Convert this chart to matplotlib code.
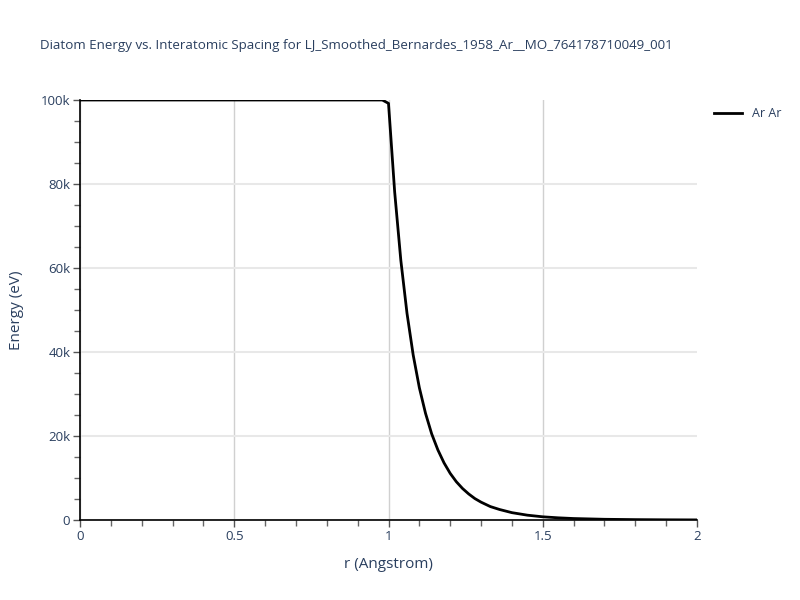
import matplotlib
matplotlib.use('Agg')
import matplotlib.pyplot as plt
from matplotlib.ticker import MultipleLocator, FuncFormatter

# Datos (r en Angstrom, energia en eV)
r_vals = [0.0, 0.98, 1.00, 1.02, 1.04, 1.06, 1.08, 1.10, 1.12, 1.14, 1.16,
          1.18, 1.20, 1.22, 1.24, 1.26, 1.28, 1.30, 1.33, 1.36, 1.40, 1.45,
          1.50, 1.55, 1.60, 1.70, 1.80, 1.90, 2.00]
energia = [100000, 100000, 99200, 78100, 61800, 49200, 39300, 31500, 25400,
           20500, 16700, 13600, 11100, 9100, 7500, 6200, 5100, 4250, 3200,
           2500, 1750, 1150, 760, 520, 350, 170, 90, 45, 20]
etiqueta = 'Ar Ar'
titulo = 'Diatom Energy vs. Interatomic Spacing for LJ_Smoothed_Bernardes_1958_Ar__MO_764178710049_001'

texto = '#2a3f5f'
plt.rcParams['font.family'] = ['Open Sans', 'DejaVu Sans']

fig = plt.figure(figsize=(8, 6), dpi=100)
ax = fig.add_axes([80 / 800, 1 - 520 / 600, (697 - 80) / 800, (520 - 100) / 600])

ax.plot(r_vals, energia, color='black', linewidth=2, label=etiqueta, zorder=3)

ax.set_xlim(0, 2)
ax.set_ylim(0, 100000)

# Cuadricula
ax.xaxis.set_major_locator(MultipleLocator(0.5))
ax.xaxis.set_minor_locator(MultipleLocator(0.1))
ax.yaxis.set_major_locator(MultipleLocator(20000))
ax.yaxis.set_minor_locator(MultipleLocator(5000))
ax.grid(True, axis='x', which='major', color='#d0d0d0', linewidth=1)
ax.grid(True, axis='y', which='major', color='#e8e8e8', linewidth=1.5)
ax.set_axisbelow(True)

def fmt_x(v, pos):
    if abs(v - round(v)) < 1e-9:
        return str(int(round(v)))
    return f'{v:g}'

def fmt_y(v, pos):
    if v == 0:
        return '0'
    return f'{int(v / 1000)}k'

ax.xaxis.set_major_formatter(FuncFormatter(fmt_x))
ax.yaxis.set_major_formatter(FuncFormatter(fmt_y))

ax.tick_params(axis='both', which='major', direction='out', length=5, width=1,
               color='#555555', labelsize=9.5, labelcolor=texto, pad=2)
ax.tick_params(axis='both', which='minor', direction='out', length=4, width=1,
               color='#666666')

# sin lineas de cuadricula en los bordes (x=2 y 100k)
fig.canvas.draw()
for t in ax.xaxis.get_major_ticks():
    if abs(t.get_loc() - 2.0) < 1e-6:
        t.gridline.set_visible(False)
for t in ax.yaxis.get_major_ticks():
    if abs(t.get_loc() - 100000) < 1:
        t.gridline.set_visible(False)

for lado in ['top', 'right']:
    ax.spines[lado].set_visible(False)
for lado in ['left', 'bottom']:
    ax.spines[lado].set_color('black')
    ax.spines[lado].set_linewidth(1.2)

ax.set_xlabel('r (Angstrom)', fontsize=11, color=texto, labelpad=10)
ax.set_ylabel('Energy (eV)', fontsize=11, color=texto, labelpad=12)

fig.text(40 / 800, 1 - 46 / 600, titulo, fontsize=9.6, color=texto,
         ha='left', va='center')

leg = ax.legend(loc='upper left', bbox_to_anchor=(1.01, 1.01), frameon=False,
                fontsize=9, handlelength=2.2, labelcolor=texto)

plt.savefig('out.png', dpi=100)
